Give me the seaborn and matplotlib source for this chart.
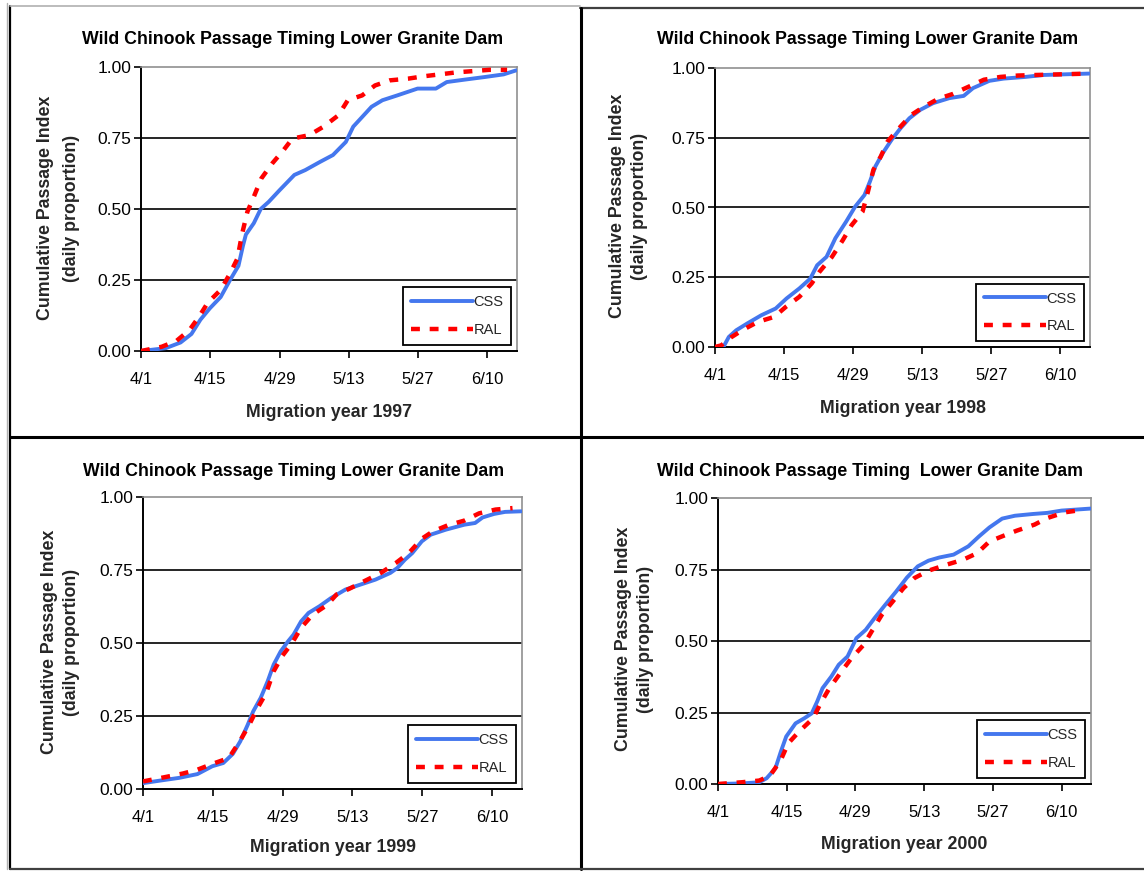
import matplotlib
matplotlib.use("Agg")
import matplotlib.pyplot as plt
from matplotlib.lines import Line2D
import seaborn as sns
import pandas as pd

# ---------------- data (day 0 = April 1) ----------------
tick_days = [0, 14, 28, 42, 56, 70]
tick_labels = ["4/1", "4/15", "4/29", "5/13", "5/27", "6/10"]
ytick_vals = [0.0, 0.25, 0.5, 0.75, 1.0]
ytick_labels = ["0.00", "0.25", "0.50", "0.75", "1.00"]
years = ["1997", "1998", "1999", "2000"]
titles = ["Wild Chinook Passage Timing Lower Granite Dam",
          "Wild Chinook Passage Timing Lower Granite Dam",
          "Wild Chinook Passage Timing Lower Granite Dam",
          "Wild Chinook Passage Timing  Lower Granite Dam"]

css_1997_day = [0, 5, 8, 10.2, 12, 13.9, 16.1, 18, 19.7, 20.6, 21.2, 22.8, 24.2, 25.8, 28, 31, 33.2,
                36.2, 38.8, 41.4, 42.9, 44.7, 46.6, 48.8, 51.8, 55.9, 59.6, 61.8, 65.2, 69.6, 73.3, 75.8]
css_1997_val = [0.0, 0.01, 0.03, 0.06, 0.11, 0.15, 0.19, 0.25, 0.30, 0.37, 0.41, 0.45, 0.50, 0.525, 0.566,
                0.62, 0.637, 0.666, 0.69, 0.736, 0.79, 0.824, 0.86, 0.883, 0.90, 0.924, 0.924, 0.947,
                0.955, 0.965, 0.974, 0.988]
ral_1997_day = [0, 4.2, 7.2, 9.8, 11.7, 13.5, 16.1, 18, 19.5, 20.4, 21.5, 22.8, 24.3, 26.5, 28.8, 30.6,
                34, 36.9, 39.9, 41.8, 44.7, 47.3, 50.3, 54, 57, 63.7, 70.4, 74]
ral_1997_val = [0.0, 0.015, 0.036, 0.074, 0.12, 0.17, 0.215, 0.273, 0.326, 0.41, 0.49, 0.543, 0.607,
                0.66, 0.707, 0.748, 0.76, 0.79, 0.83, 0.883, 0.90, 0.935, 0.953, 0.959, 0.967, 0.981,
                0.99, 0.99]

css_1998_day = [1.7, 2.8, 4.3, 6.5, 9.4, 12.3, 14.5, 17.1, 19.3, 20.7, 22.6, 24.4, 26.6, 28.4, 30.3,
                31.4, 32.5, 34, 35.8, 37.6, 39.4, 41.6, 44.2, 47.5, 50.4, 52.3, 55.6, 58.5, 62.9, 66.6, 75.8]
css_1998_val = [0.0, 0.036, 0.06, 0.084, 0.114, 0.138, 0.174, 0.21, 0.245, 0.293, 0.323, 0.39, 0.45,
                0.503, 0.545, 0.593, 0.647, 0.695, 0.743, 0.784, 0.82, 0.85, 0.874, 0.892, 0.90, 0.928,
                0.954, 0.962, 0.968, 0.975, 0.98]
ral_1998_day = [0, 1.3, 3.2, 5.7, 8.7, 12, 14.5, 17.1, 19.6, 21.2, 23.7, 25.9, 27.7, 29.9, 31, 32.1,
                33.6, 35, 37.6, 39.8, 42.4, 45.3, 48.2, 51.9, 54.5, 57.8, 61.4, 65.1, 75.8]
ral_1998_val = [0.0, 0.006, 0.034, 0.062, 0.09, 0.108, 0.146, 0.18, 0.228, 0.27, 0.323, 0.383, 0.437,
                0.485, 0.557, 0.635, 0.683, 0.737, 0.79, 0.832, 0.862, 0.89, 0.907, 0.937, 0.958,
                0.968, 0.973, 0.975, 0.98]

css_1999_day = [0, 3.5, 7.2, 10.9, 13.9, 16.1, 18, 19.5, 21, 22.1, 23.6, 25, 26.2, 27.6, 29.1, 30.2,
                31.7, 33.2, 35.4, 37.7, 40.6, 43.6, 46.6, 49.6, 51, 52.5, 54, 55.9, 57.7, 60.7, 64.4,
                66.6, 68.1, 70.4, 72.6, 75.8]
css_1999_val = [0.02, 0.029, 0.038, 0.051, 0.078, 0.089, 0.12, 0.163, 0.22, 0.266, 0.312, 0.369, 0.426,
                0.471, 0.506, 0.529, 0.574, 0.603, 0.626, 0.654, 0.683, 0.70, 0.717, 0.74, 0.757, 0.785,
                0.808, 0.848, 0.871, 0.888, 0.905, 0.911, 0.93, 0.942, 0.949, 0.951]
ral_1999_day = [0, 4.2, 8, 10.9, 13.9, 17.2, 19.5, 21.3, 22.8, 24.7, 26.2, 27.9, 29.9, 31.7, 34, 36.9,
                38.8, 41.4, 44.4, 47.7, 50.7, 53.3, 55.9, 58.1, 61.1, 64.4, 67.4, 70.7, 74.1]
ral_1999_val = [0.026, 0.04, 0.053, 0.066, 0.086, 0.106, 0.166, 0.22, 0.272, 0.329, 0.403, 0.455, 0.50,
                0.552, 0.597, 0.63, 0.666, 0.686, 0.712, 0.74, 0.774, 0.808, 0.857, 0.882, 0.903,
                0.919, 0.944, 0.957, 0.962]

css_2000_day = [0, 4.8, 8.4, 9.9, 11.7, 12.8, 13.9, 15.8, 17.6, 19.1, 20.2, 21.3, 23.1, 24.6, 26.4,
                28.2, 30.1, 31.9, 34.1, 36.3, 38.5, 40.7, 42.9, 45.1, 48, 51, 53.2, 55.3, 57.9, 60.5,
                64.1, 67.1, 70, 75.9]
css_2000_val = [0.0, 0.002, 0.006, 0.02, 0.055, 0.113, 0.166, 0.212, 0.23, 0.247, 0.288, 0.335, 0.376,
                0.417, 0.446, 0.51, 0.539, 0.58, 0.627, 0.673, 0.722, 0.761, 0.781, 0.792, 0.802, 0.831,
                0.866, 0.897, 0.928, 0.938, 0.944, 0.948, 0.956, 0.963]
ral_2000_day = [0, 4.8, 8.4, 10.6, 12.8, 14.3, 16.5, 19.4, 20.9, 22.7, 24.9, 27.1, 29.7, 31.5, 33.4,
                35.6, 37.8, 40, 42.9, 46.6, 49.9, 52.8, 55.3, 57.9, 60.9, 64.5, 67.1, 70.7, 74.4]
ral_2000_val = [0.0, 0.006, 0.012, 0.029, 0.084, 0.142, 0.183, 0.23, 0.282, 0.335, 0.387, 0.438, 0.487,
                0.539, 0.592, 0.638, 0.685, 0.72, 0.746, 0.767, 0.784, 0.807, 0.848, 0.866, 0.886,
                0.907, 0.93, 0.95, 0.959]

css_days = [css_1997_day, css_1998_day, css_1999_day, css_2000_day]
css_vals = [css_1997_val, css_1998_val, css_1999_val, css_2000_val]
ral_days = [ral_1997_day, ral_1998_day, ral_1999_day, ral_2000_day]
ral_vals = [ral_1997_val, ral_1998_val, ral_1999_val, ral_2000_val]

# ---------------- layout (pixels) ----------------
W, H = 1144, 871
sns.set_theme(style="white")
plt.rcParams["font.family"] = ["Liberation Sans", "DejaVu Sans"]

fig = plt.figure(figsize=(W / 100, H / 100), dpi=100)
fig.patch.set_facecolor("white")

# axes boxes: left, right, top, bottom in pixel coordinates
boxes = [(141, 517, 67, 351), (715, 1090, 68, 347), (143, 522, 497, 789), (718, 1091, 498, 784)]
title_pos = [(293, 39), (868, 40), (294, 471), (870, 471)]
ylab_pos = [(46, 72, 208), (618, 640, 206), (50, 72, 642), (623, 646, 639)]
xlab_y = [412, 408, 847, 844]

def fx(x):
    return x / W

def fy(y):
    return 1 - y / H

css_color = "#4477EE"
ral_color = "#FF0000"
bold_size = 12.8

for i in range(4):
    l, r, t, b = boxes[i]
    ax = fig.add_axes([fx(l), fy(b), (r - l) / W, (b - t) / H])
    ax.set_facecolor("white")
    df_css = pd.DataFrame({"day": css_days[i], "val": css_vals[i]})
    df_ral = pd.DataFrame({"day": ral_days[i], "val": ral_vals[i]})
    sns.lineplot(data=df_css, x="day", y="val", ax=ax, color=css_color, lw=2.8,
                 label="CSS", zorder=3, estimator=None)
    sns.lineplot(data=df_ral, x="day", y="val", ax=ax, color=ral_color, lw=3.2,
                 label="RAL", zorder=4, estimator=None, linestyle=(0, (2.0, 2.2)))
    ax.set_xlim(0, 76)
    ax.set_ylim(0, 1)
    ax.set_xticks(tick_days)
    ax.set_xticklabels(tick_labels, fontsize=12)
    ax.set_yticks(ytick_vals)
    ax.set_yticklabels(ytick_labels, fontsize=12.5)
    ax.tick_params(axis="both", direction="out", length=5, width=1.2, color="black",
                   left=True, bottom=True, labelcolor="black")
    ax.tick_params(axis="x", pad=10)
    ax.tick_params(axis="y", pad=2)
    for yv in [0.25, 0.5, 0.75]:
        ax.axhline(yv, color="black", lw=1.2, zorder=1)
    ax.spines["left"].set_color("black")
    ax.spines["bottom"].set_color("black")
    ax.spines["left"].set_linewidth(1.4)
    ax.spines["bottom"].set_linewidth(1.4)
    ax.spines["top"].set_color("#909090")
    ax.spines["right"].set_color("#909090")
    ax.spines["top"].set_linewidth(1.2)
    ax.spines["right"].set_linewidth(1.2)
    ax.set_xlabel("")
    ax.set_ylabel("")
    leg = ax.legend(loc="lower right", bbox_to_anchor=(0.985, 0.02), fontsize=10.5,
                    frameon=True, fancybox=False, framealpha=1, edgecolor="black",
                    handlelength=4.3, handletextpad=0.0, borderpad=0.55, labelspacing=0.95,
                    borderaxespad=0.0)
    leg.get_frame().set_linewidth(1.3)

    tx, ty = title_pos[i]
    fig.text(fx(tx), fy(ty), titles[i], ha="center", va="center", fontsize=bold_size,
             fontweight="bold", color="black")
    x1, x2, yc = ylab_pos[i]
    fig.text(fx(x1), fy(yc), "Cumulative Passage Index", rotation=90, ha="center",
             va="center", fontsize=bold_size, fontweight="bold")
    fig.text(fx(x2), fy(yc), "(daily proportion)", rotation=90, ha="center",
             va="center", fontsize=bold_size, fontweight="bold")
    fig.text(fx((l + r) / 2), fy(xlab_y[i]), "Migration year " + years[i], ha="center",
             va="center", fontsize=bold_size, fontweight="bold")

# ---------------- panel borders ----------------
def fig_line(x0, y0, x1, y1, color="black", lw=2.0):
    fig.add_artist(Line2D([fx(x0), fx(x1)], [fy(y0), fy(y1)], color=color, lw=lw,
                          transform=fig.transFigure))

fig_line(7, 3, 7, 869, color="#b0b0b0", lw=1.0)
fig_line(10, 6, 10, 869, color="black", lw=1.6)
fig_line(10, 6, 580, 6, color="#b0b0b0", lw=1.2)
fig_line(580, 8, 1144, 8, color="#404040", lw=1.6)
fig_line(581, 8, 581, 869, color="black", lw=2.2)
fig_line(10, 437, 1144, 437, color="black", lw=2.2)
fig_line(10, 869, 1144, 869, color="#404040", lw=1.6)

fig.savefig("out.png", dpi=100, facecolor="white")
